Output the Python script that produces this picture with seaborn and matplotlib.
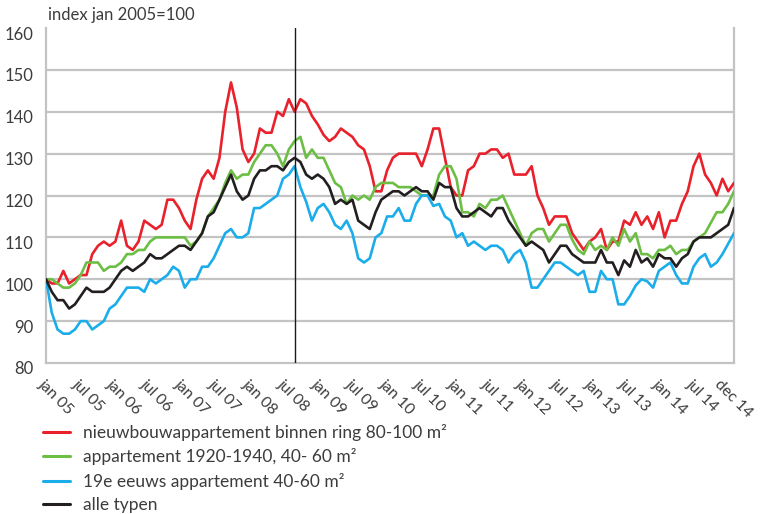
import numpy as np
import pandas as pd
import seaborn as sns
import matplotlib
matplotlib.use("Agg")
import matplotlib.pyplot as plt
from matplotlib.lines import Line2D
from matplotlib.transforms import ScaledTranslation

# Monthly price index, jan 2005 = 100 (jan 2005 .. dec 2014)
months = pd.date_range("2005-01-01", "2014-12-01", freq="MS")

nieuwbouw = [
    100, 99, 99, 102, 99, 100, 101, 101, 106, 108, 109, 108,
    109, 114, 108, 107, 109, 114, 113, 112, 113, 119, 119, 117,
    114, 112, 119, 124, 126, 124, 129, 140, 147, 141, 131, 128,
    130, 136, 135, 135, 140, 139, 143, 140, 143, 142, 139, 137,
    134.5, 133, 134, 136, 135, 134, 132, 131, 127, 121, 121, 126,
    129, 130, 130, 130, 130, 127, 131, 136, 136, 129, 122, 120,
    120, 126, 127, 130, 130, 131, 131, 129, 130, 125, 125, 125,
    127, 120, 117, 113, 115, 115, 115, 111, 109, 107, 109, 110,
    112, 107, 109, 109, 114, 113, 116, 113, 115, 112, 116, 110,
    114, 114, 118, 121, 127, 130, 125, 123, 120, 124, 121, 123,
]

app_1920_1940 = [
    100, 100, 99, 98, 98, 99, 101, 104, 104, 104, 102, 103,
    103, 104, 106, 106, 107, 107, 109, 110, 110, 110, 110, 110,
    110, 108, 109, 111, 115, 117, 119, 123, 126, 124, 125, 125,
    128, 130, 132, 132, 130, 127, 131, 133, 134, 129, 131, 129,
    129, 126, 123, 122, 118, 120, 119, 120, 119, 122, 123, 123,
    123, 122, 122, 122, 121, 120, 120, 120, 125, 127, 127, 124,
    116, 116, 115, 118, 117, 119, 119, 120, 117, 114, 111, 108,
    111, 112, 112, 109, 111, 113, 113, 109.5, 107, 106, 109, 107,
    108, 107, 110, 108, 112, 109, 111, 106, 106, 105, 107, 107,
    108, 106, 107, 107, 109, 110, 111, 113.5, 116, 116, 118, 121,
]

app_19e_eeuws = [
    100, 92, 88, 87, 87, 88, 90, 90, 88, 89, 90, 93,
    94, 96, 98, 98, 98, 97, 100, 99, 100, 101, 103, 102,
    98, 100, 100, 103, 103, 105, 108, 111, 112, 110, 110, 111,
    117, 117, 118, 119, 120, 124, 125, 127, 122, 118.5, 114, 117,
    118, 116, 113, 112, 114, 111, 105, 104, 105, 110, 111, 115,
    115, 117, 114, 114, 118, 120, 120, 117.5, 118, 115, 114, 110,
    111, 108, 109, 108, 107, 108, 108, 107, 104, 106, 107, 104,
    98, 98, 100, 102, 104, 104, 103, 102, 101, 102, 97, 97,
    102, 100, 100, 94, 94, 96, 98.5, 100, 99.5, 98, 102, 103,
    104, 101, 99, 99, 103, 105, 106, 103, 104, 106, 108.5, 111,
]

alle_typen = [
    100, 97, 95, 95, 93, 94, 96, 98, 97, 97, 97, 98,
    100, 102, 103, 102, 103, 104, 106, 105, 105, 106, 107, 108,
    108, 107, 109, 111, 115, 116, 119, 122, 125, 121, 119, 120,
    124, 126, 126, 127, 127, 126, 128, 129, 128, 125, 124, 125,
    124, 122, 118, 119, 118, 119, 114, 113, 112, 116, 119, 120,
    121, 121, 120, 121, 122, 121, 121, 119, 123, 122, 122, 117,
    115, 115, 116, 117, 116, 115, 117, 117, 114, 112, 110, 108,
    109, 108, 107, 104, 106, 108, 108, 106, 105, 104, 104, 104,
    107, 104, 104, 101, 104.5, 103, 107, 104, 105, 103, 106, 105,
    105, 103, 105, 106, 109, 110, 110, 110, 111, 112, 113, 117,
]

series_labels = [
    "nieuwbouwappartement binnen ring 80-100 m²",
    "appartement 1920-1940, 40- 60 m²",
    "19e eeuws appartement 40-60 m²",
    "alle typen",
]
series_colors = ["#e8212b", "#6dbe45", "#1badea", "#231f20"]

tick_months = ["2005-01", "2005-07", "2006-01", "2006-07", "2007-01", "2007-07",
               "2008-01", "2008-07", "2009-01", "2009-07", "2010-01", "2010-07",
               "2011-01", "2011-07", "2012-01", "2012-07", "2013-01", "2013-07",
               "2014-01", "2014-07", "2014-12"]
tick_labels = ["jan 05", "jul 05", "jan 06", "jul 06", "jan 07", "jul 07",
               "jan 08", "jul 08", "jan 09", "jul 09", "jan 10", "jul 10",
               "jan 11", "jul 11", "jan 12", "jul 12", "jan 13", "jul 13",
               "jan 14", "jul 14", "dec 14"]
marker_month = "2008-08"

y_ticks = [80, 90, 100, 110, 120, 130, 140, 150, 160]

# long-form table for seaborn
pos = np.arange(len(months))
wide = pd.DataFrame({
    "pos": pos,
    series_labels[0]: nieuwbouw,
    series_labels[1]: app_1920_1940,
    series_labels[2]: app_19e_eeuws,
    series_labels[3]: alle_typen,
})
df = wide.melt(id_vars="pos", var_name="type", value_name="index")

month_pos = {m.strftime("%Y-%m"): i for i, m in enumerate(months)}

sns.set_theme(style="white")
plt.rcParams["font.family"] = ["Lato", "DejaVu Sans"]

text_color = "#3c3c3c"
grid_color = "#c3c3c3"

fig = plt.figure(figsize=(7.62, 5.14), dpi=100)
ax = fig.add_axes([46 / 762, 1 - 363 / 514, 688 / 762, 335 / 514])

for y in y_ticks[1:-1]:
    ax.axhline(y, color=grid_color, linewidth=1.6, zorder=0)

sns.lineplot(data=df, x="pos", y="index", hue="type", hue_order=series_labels,
             palette=series_colors, linewidth=1.9, legend=False, ax=ax,
             zorder=3)

ax.axvline(month_pos[marker_month], color="#1a1a1a", linewidth=1.0, zorder=4)

ax.set_xlim(0, len(months) - 1)
ax.set_ylim(80, 160)
ax.set_yticks(y_ticks)
ax.set_yticklabels([str(v) for v in y_ticks])
ax.set_xticks([month_pos[m] for m in tick_months])
ax.set_xticklabels(tick_labels, rotation=-45, ha="left", va="top",
                   rotation_mode="anchor")
ax.set_xlabel("")
ax.set_ylabel("")

ax.tick_params(axis="both", length=0, colors=text_color)
ax.tick_params(axis="y", labelsize=12, pad=9)
ax.tick_params(axis="x", labelsize=11.3, pad=10)
ax.grid(False)

# y labels sit slightly below their gridlines
shift = ScaledTranslation(0, -0.05, fig.dpi_scale_trans)
for lab in ax.get_yticklabels():
    lab.set_transform(lab.get_transform() + shift)

# x labels drift a little to the left towards the right end
n_last = len(months) - 1
for lab, m in zip(ax.get_xticklabels(), tick_months):
    dx = -(0.01 + 0.11 * month_pos[m] / n_last)
    lab.set_transform(lab.get_transform()
                      + ScaledTranslation(dx, 0, fig.dpi_scale_trans))

for side in ["left", "bottom", "right"]:
    ax.spines[side].set_color(grid_color)
    ax.spines[side].set_linewidth(1.6)
ax.spines["top"].set_visible(False)

fig.text(48 / 762, 1 - 15 / 514, "index jan 2005=100", fontsize=12,
         color=text_color, va="center", ha="left")

handles = [Line2D([], [], color=c, linewidth=2.2) for c in series_colors]
fig.legend(handles, series_labels, loc="upper left",
           bbox_to_anchor=(43 / 762, 1 - 424 / 514), frameon=False,
           fontsize=12.5, handlelength=1.56, handletextpad=0.75,
           labelspacing=0.42, borderaxespad=0, borderpad=0,
           labelcolor=text_color)

fig.savefig("out.png", dpi=100)
